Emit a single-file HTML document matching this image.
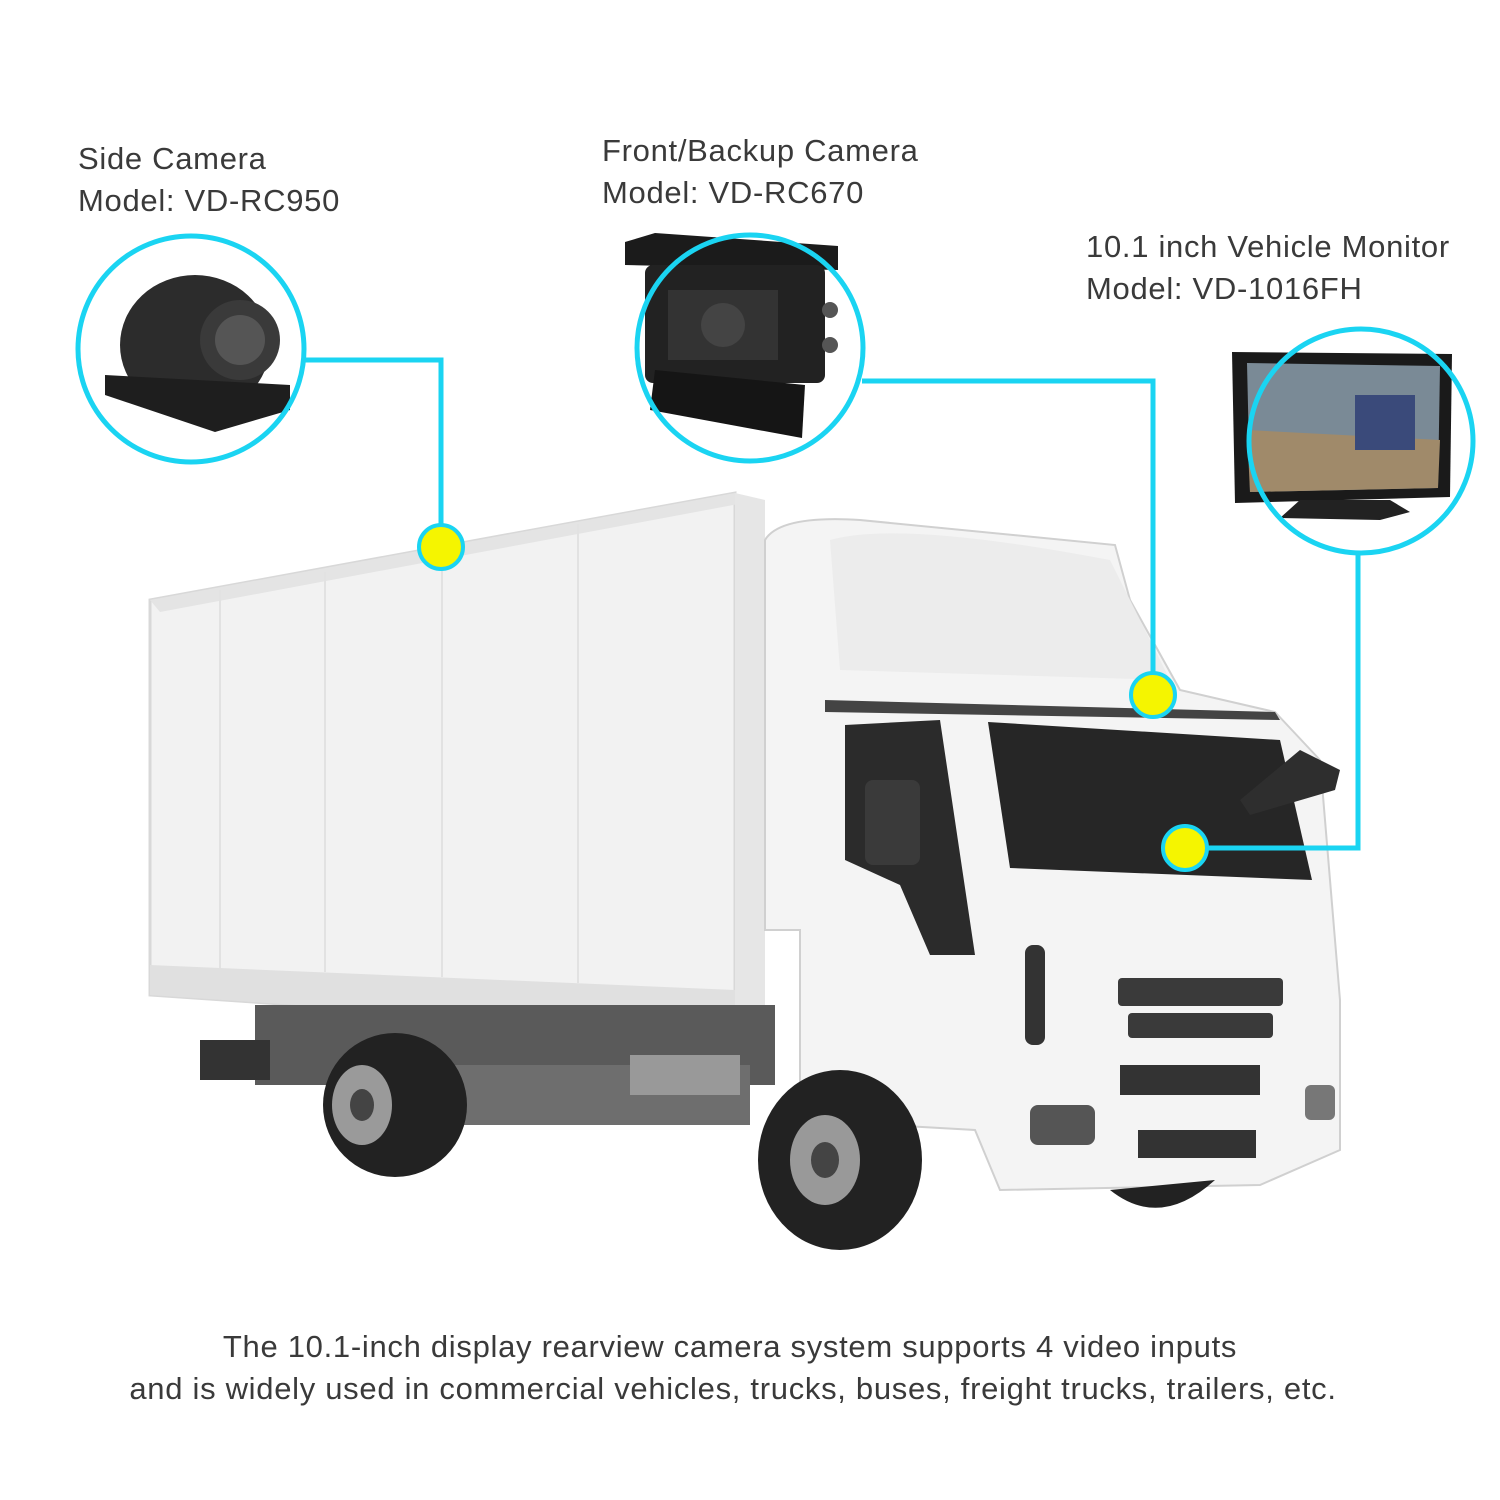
<!DOCTYPE html>
<html><head><meta charset="utf-8"><style>
html,body{margin:0;padding:0;background:#fff;}
svg{display:block;}
text{font-family:"Liberation Sans",sans-serif;fill:#3a3a3a;}
</style></head><body>
<svg width="1500" height="1500" viewBox="0 0 1500 1500" xmlns="http://www.w3.org/2000/svg">
<rect width="1500" height="1500" fill="#fff"/>
<!-- labels -->
<g font-size="31" letter-spacing="0.7">
<text x="78" y="169">Side Camera</text>
<text x="78" y="211">Model: VD-RC950</text>
<text x="602" y="161">Front/Backup Camera</text>
<text x="602" y="203">Model: VD-RC670</text>
<text x="1086" y="257">10.1 inch Vehicle Monitor</text>
<text x="1086" y="299">Model: VD-1016FH</text>
</g>
<g font-size="31" text-anchor="middle" letter-spacing="0.7">
<text x="730" y="1357">The 10.1-inch display rearview camera system supports 4 video inputs</text>
<text x="733" y="1399">and is widely used in commercial vehicles, trucks, buses, freight trucks, trailers, etc.</text>
</g>

<!-- truck box -->
<polygon points="150,600 735,493 735,1035 150,995" fill="#f2f2f2" stroke="#d8d8d8" stroke-width="3"/>
<polygon points="150,600 735,493 760,500 160,612" fill="#e4e4e4"/>
<polygon points="150,965 735,990 735,1035 150,995" fill="#e0e0e0"/>
<line x1="220" y1="590" x2="220" y2="968" stroke="#e2e2e2" stroke-width="2"/>
<line x1="325" y1="572" x2="325" y2="972" stroke="#e2e2e2" stroke-width="2"/>
<line x1="442" y1="550" x2="442" y2="977" stroke="#e2e2e2" stroke-width="2"/>
<line x1="578" y1="524" x2="578" y2="983" stroke="#e2e2e2" stroke-width="2"/>
<polygon points="735,493 765,500 765,1030 735,1035" fill="#e6e6e6"/>
<!-- chassis -->
<rect x="255" y="1005" width="520" height="80" fill="#5a5a5a"/>
<rect x="400" y="1065" width="350" height="60" fill="#6e6e6e"/>
<rect x="630" y="1055" width="110" height="40" fill="#999"/>
<rect x="200" y="1040" width="70" height="40" fill="#333"/>
<!-- rear wheel -->
<ellipse cx="395" cy="1105" rx="72" ry="72" fill="#222"/>
<ellipse cx="362" cy="1105" rx="30" ry="40" fill="#9a9a9a"/>
<ellipse cx="362" cy="1105" rx="12" ry="16" fill="#444"/>
<!-- cab -->
<path d="M765,540 Q780,515 860,520 L1115,545 L1130,600 L1180,690 L1275,712 L1320,760 L1340,1000 L1340,1150 L1260,1185 L1000,1190 L975,1130 L800,1120 L800,930 L765,930 Z" fill="#f4f4f4" stroke="#d0d0d0" stroke-width="2"/>
<path d="M830,540 Q900,520 1110,560 L1170,680 L840,670 Z" fill="#ececec"/>
<polygon points="825,700 1275,712 1280,720 825,712" fill="#444"/>
<!-- windshield -->
<polygon points="988,722 1280,740 1312,880 1010,868" fill="#262626"/>
<!-- side window -->
<polygon points="845,725 940,720 975,955 930,955 900,885 845,860" fill="#2b2b2b"/>
<rect x="865" y="780" width="55" height="85" rx="8" fill="#3a3a3a"/>
<!-- mirror -->
<path d="M1240,800 L1300,750 L1340,770 L1335,790 L1250,815 Z" fill="#2e2e2e"/>
<!-- grille -->
<rect x="1118" y="978" width="165" height="28" rx="4" fill="#3a3a3a"/>
<rect x="1128" y="1013" width="145" height="25" rx="4" fill="#3a3a3a"/>
<rect x="1120" y="1065" width="140" height="30" fill="#333"/>
<rect x="1138" y="1130" width="118" height="28" fill="#333"/>
<rect x="1030" y="1105" width="65" height="40" rx="8" fill="#555"/>
<rect x="1305" y="1085" width="30" height="35" rx="6" fill="#777"/>
<rect x="1025" y="945" width="20" height="100" rx="8" fill="#333"/>
<!-- front wheel -->
<ellipse cx="840" cy="1160" rx="82" ry="90" fill="#222"/>
<ellipse cx="825" cy="1160" rx="35" ry="45" fill="#999"/>
<ellipse cx="825" cy="1160" rx="14" ry="18" fill="#444"/>
<path d="M1110,1190 Q1160,1230 1215,1180 Z" fill="#222"/>

<!-- side camera -->
<ellipse cx="195" cy="345" rx="75" ry="70" fill="#2c2c2c"/>
<polygon points="105,375 290,385 290,410 215,432 105,395" fill="#1e1e1e"/>
<circle cx="240" cy="340" r="40" fill="#3a3a3a"/>
<circle cx="240" cy="340" r="25" fill="#555"/>
<!-- front camera -->
<polygon points="625,242 655,233 838,246 838,270 625,265" fill="#1b1b1b"/>
<rect x="645" y="265" width="180" height="118" rx="8" fill="#222"/>
<rect x="668" y="290" width="110" height="70" fill="#333"/>
<circle cx="723" cy="325" r="22" fill="#444"/>
<polygon points="655,370 805,385 802,438 650,410" fill="#151515"/>
<circle cx="830" cy="310" r="8" fill="#555"/><circle cx="830" cy="345" r="8" fill="#555"/>
<!-- monitor -->
<polygon points="1232,352 1452,354 1450,497 1235,503" fill="#1a1a1a"/>
<polygon points="1247,363 1440,366 1438,488 1250,492" fill="#7a8a96"/>
<polygon points="1247,430 1440,440 1438,488 1250,492" fill="#a08a6a"/>
<rect x="1355" y="395" width="60" height="55" fill="#3a4a7a"/>
<polygon points="1280,518 1300,500 1390,500 1410,512 1380,520" fill="#222"/>

<!-- rings & connectors -->
<g fill="none" stroke="#1ad4f2" stroke-width="5">
<circle cx="191" cy="349" r="113"/>
<circle cx="750" cy="348" r="113"/>
<circle cx="1361" cy="441" r="112"/>
<polyline points="305,360 441,360 441,530"/>
<polyline points="862,381 1153,381 1153,678"/>
<polyline points="1358,555 1358,848 1205,848"/>
</g>
<g fill="#f5f500" stroke="#1ad4f2" stroke-width="4">
<circle cx="441" cy="547" r="22"/>
<circle cx="1153" cy="695" r="22"/>
<circle cx="1185" cy="848" r="22"/>
</g>
</svg>
</body></html>
